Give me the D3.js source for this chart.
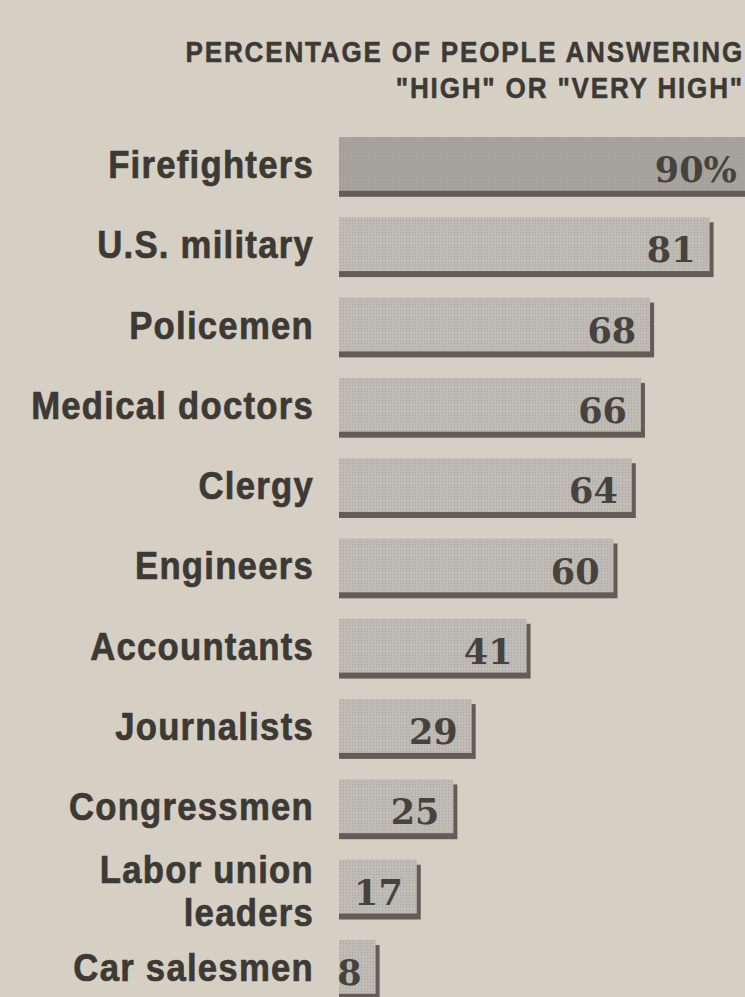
<!DOCTYPE html>
<html>
<head>
<meta charset="utf-8">
<script src="https://cdn.jsdelivr.net/npm/d3@7"></script>
<style>
  body { margin: 0; background: #d6d0c4; }
  svg { display: block; }
</style>
</head>
<body>
<div id="chart"></div>
<script>
// Set up the SVG
var svgWidth = 745;
var svgHeight = 997;

// chart data
var categories = ["Firefighters", "U.S. military", "Policemen", "Medical doctors", "Clergy",
  "Engineers", "Accountants", "Journalists", "Congressmen", "Labor union leaders", "Car salesmen"];
var labelLines = [["Firefighters"], ["U.S. military"], ["Policemen"], ["Medical doctors"], ["Clergy"],
  ["Engineers"], ["Accountants"], ["Journalists"], ["Congressmen"], ["Labor union", "leaders"], ["Car salesmen"]];
var values = [90, 81, 68, 66, 64, 60, 41, 29, 25, 17, 8];
var valueLabels = ["90%", "81", "68", "66", "64", "60", "41", "29", "25", "17", "8"];
var titleLines = ["PERCENTAGE OF PEOPLE ANSWERING", "\"HIGH\" OR \"VERY HIGH\""];

var svg = d3.select("#chart")
  .append("svg")
  .attr("width", svgWidth)
  .attr("height", svgHeight);

svg.append("rect")
  .attr("width", svgWidth)
  .attr("height", svgHeight)
  .attr("fill", "#d6d0c4");

// halftone screen for the bars
var defs = svg.append("defs");
var pat = defs.append("pattern")
  .attr("id", "dots")
  .attr("width", 3)
  .attr("height", 3)
  .attr("patternUnits", "userSpaceOnUse");
pat.append("circle").attr("cx", 1.5).attr("cy", 1.5).attr("r", 0.7).attr("fill", "#8f8a84").attr("opacity", 0.35);

// scales
var xScale = d3.scaleLinear()
  .domain([0, 100])
  .range([339, 796.5]);

var yScale = d3.scaleBand()
  .domain(categories)
  .range([137, 137 + 80.3 * (11 - 0.33)])
  .paddingInner(0.33)
  .paddingOuter(0);

var condensed = 0.89; // horizontal squeeze for the condensed headline face

// title
svg.selectAll("text.title")
  .data(titleLines)
  .enter()
  .append("text")
  .attr("class", "title")
  .attr("transform", (d, i) => `translate(744, ${62 + i * 36}) scale(0.9, 1)`)
  .attr("text-anchor", "end")
  .attr("font-family", "Liberation Sans, Arial, sans-serif")
  .attr("font-weight", "bold")
  .attr("font-size", 29)
  .attr("letter-spacing", 2)
  .attr("stroke", "#3d3935")
  .attr("stroke-width", 0.5)
  .attr("fill", "#3d3935")
  .text(d => d);

var rows = svg.selectAll("g.row")
  .data(categories)
  .enter()
  .append("g")
  .attr("class", "row");

// shadow
rows.append("rect")
  .attr("x", xScale(0))
  .attr("y", d => yScale(d) + 5)
  .attr("width", (d, i) => xScale(values[i]) - xScale(0) + 4)
  .attr("height", yScale.bandwidth() + 1)
  .attr("fill", "#625d57");

// bar
rows.append("rect")
  .attr("x", xScale(0))
  .attr("y", d => yScale(d))
  .attr("width", (d, i) => xScale(values[i]) - xScale(0))
  .attr("height", yScale.bandwidth())
  .attr("fill", (d, i) => i === 0 ? "#a7a39d" : "#bfbbb5");

rows.append("rect")
  .attr("x", xScale(0))
  .attr("y", d => yScale(d))
  .attr("width", (d, i) => xScale(values[i]) - xScale(0))
  .attr("height", yScale.bandwidth())
  .attr("fill", "url(#dots)");

// value labels (kept inside the page)
rows.append("text")
  .attr("x", (d, i) => Math.min(xScale(values[i]) - 14, svgWidth - 3))
  .attr("y", d => yScale(d) + 45)
  .attr("text-anchor", "end")
  .attr("font-family", "DejaVu Serif, serif")
  .attr("font-weight", "bold")
  .attr("font-size", 35)
  .attr("fill", "#46423e")
  .text((d, i) => valueLabels[i]);

// category labels
rows.each(function(d, i) {
  var lines = labelLines[i];
  var cy = yScale(d) + yScale.bandwidth() / 2;
  lines.forEach(function(line, j) {
    var y = lines.length === 1 ? cy + 14 : cy - 4 + j * 43;
    d3.select(this).append("text")
      .attr("transform", `translate(314, ${y}) scale(${condensed}, 1)`)
      .attr("text-anchor", "end")
      .attr("font-family", "Liberation Sans, Arial, sans-serif")
      .attr("font-weight", "bold")
      .attr("font-size", 39)
      .attr("letter-spacing", 1.4)
      .attr("stroke", "#3d3935")
      .attr("stroke-width", 0.7)
      .attr("fill", "#3d3935")
      .text(line);
  }, this);
});
</script>
</body>
</html>
